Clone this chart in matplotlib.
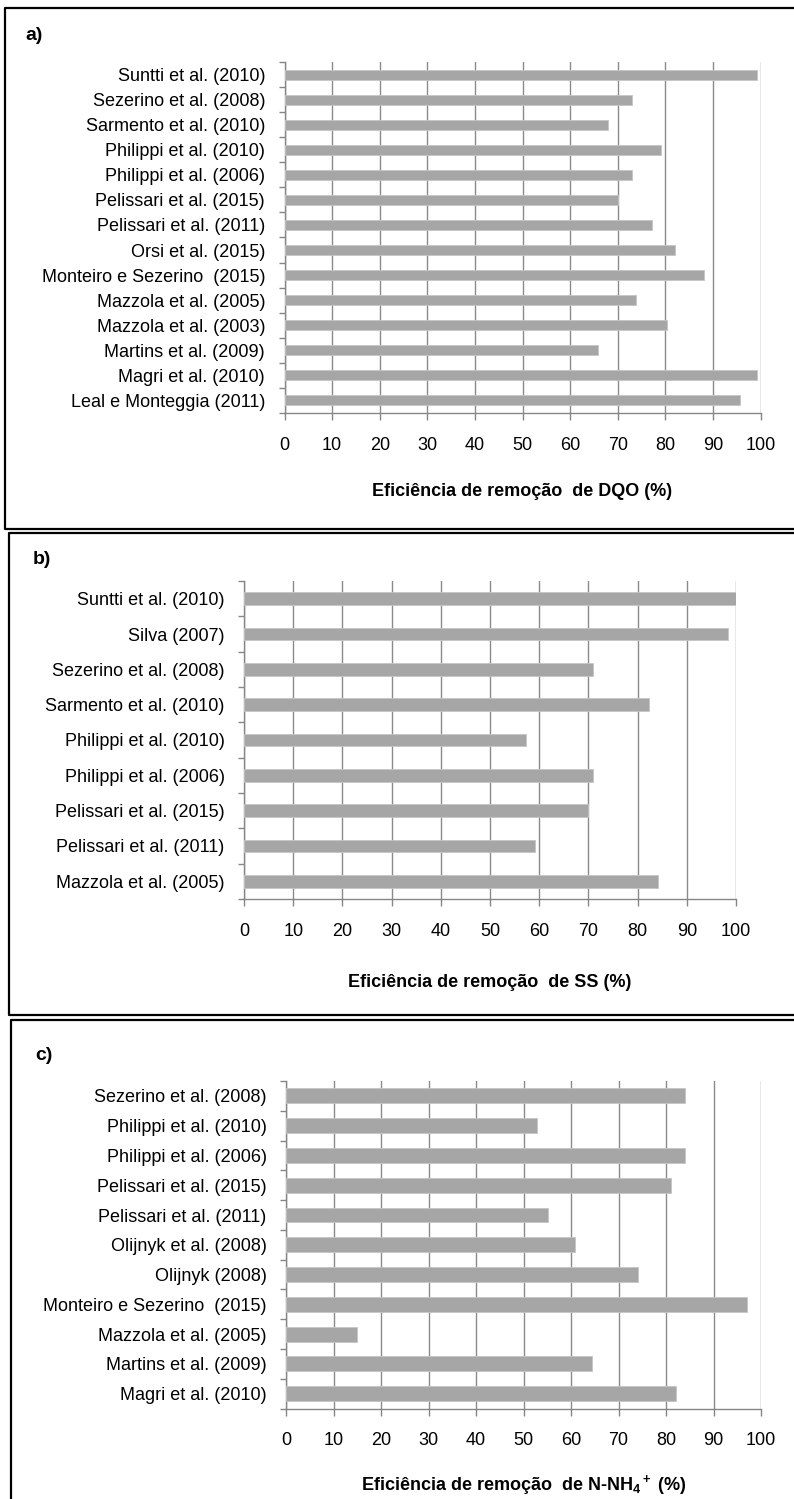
import matplotlib.pyplot as plt
from matplotlib.lines import Line2D

plt.rcParams['font.family'] = ['Liberation Sans', 'DejaVu Sans']
plt.rcParams['mathtext.fontset'] = 'custom'
plt.rcParams['mathtext.rm'] = 'Liberation Sans:bold'
plt.rcParams['mathtext.default'] = 'rm'

# a) DQO
labels_dqo = ['Suntti et al. (2010)', 'Sezerino et al. (2008)', 'Sarmento et al. (2010)',
              'Philippi et al. (2010)', 'Philippi et al. (2006)', 'Pelissari et al. (2015)',
              'Pelissari et al. (2011)', 'Orsi et al. (2015)', 'Monteiro e Sezerino  (2015)',
              'Mazzola et al. (2005)', 'Mazzola et al. (2003)', 'Martins et al. (2009)',
              'Magri et al. (2010)', 'Leal e Monteggia (2011)']
values_dqo = [99.2, 73.1, 68.0, 79.1, 73.1, 70.1, 77.3, 82.1, 88.1, 73.8, 80.4, 65.9, 99.2, 95.6]

# b) SS
labels_ss = ['Suntti et al. (2010)', 'Silva (2007)', 'Sezerino et al. (2008)',
             'Sarmento et al. (2010)', 'Philippi et al. (2010)', 'Philippi et al. (2006)',
             'Pelissari et al. (2015)', 'Pelissari et al. (2011)', 'Mazzola et al. (2005)']
values_ss = [100.0, 98.4, 71.0, 82.4, 57.3, 71.0, 70.0, 59.1, 84.2]

# c) N-NH4+
labels_nh4 = ['Sezerino et al. (2008)', 'Philippi et al. (2010)', 'Philippi et al. (2006)',
              'Pelissari et al. (2015)', 'Pelissari et al. (2011)', 'Olijnyk et al. (2008)',
              'Olijnyk (2008)', 'Monteiro e Sezerino  (2015)', 'Mazzola et al. (2005)',
              'Martins et al. (2009)', 'Magri et al. (2010)']
values_nh4 = [84.0, 52.8, 84.0, 81.0, 55.1, 60.9, 74.1, 97.0, 14.9, 64.4, 82.1]

xticks = list(range(0, 101, 10))

W, H = 794, 1499
fig = plt.figure(figsize=(W / 100, H / 100), dpi=100)


def px_axes(left, right, top, bottom):
    return fig.add_axes([left / W, 1 - bottom / H, (right - left) / W, (bottom - top) / H])


def draw_panel(ax, labels, values, bar_h, xlabel, lpad):
    n = len(labels)
    pos = list(range(n))
    ax.barh(pos, values, height=bar_h, color='#a6a6a6', edgecolor='#c6c6c6',
            linewidth=0.6, zorder=3)
    ax.set_xlim(0, 100)
    ax.set_ylim(n - 0.5, -0.5)
    ax.set_yticks(pos)
    ax.set_yticklabels(labels, fontsize=13)
    ax.set_yticks([i - 0.5 for i in range(n + 1)], minor=True)
    ax.set_xticks(xticks)
    ax.set_xticklabels([str(t) for t in xticks], fontsize=13)
    ax.tick_params(axis='y', which='major', length=0, pad=14)
    ax.tick_params(axis='y', which='minor', length=4, color='#868686', width=1)
    ax.tick_params(axis='x', which='major', length=5, color='#868686', width=1, pad=12)
    ax.grid(axis='x', color='#8a8a8a', linewidth=1, zorder=0)
    ax.set_axisbelow(True)
    for s in ['top', 'right']:
        ax.spines[s].set_visible(False)
    for s in ['left', 'bottom']:
        ax.spines[s].set_color('#868686')
        ax.spines[s].set_linewidth(1)
    ax.set_xlabel(xlabel, fontsize=13, fontweight='bold', labelpad=lpad)


ax_a = px_axes(284.5, 760.5, 62, 413)
draw_panel(ax_a, labels_dqo, values_dqo, 0.4, 'Eficiência de remoção  de DQO (%)', 21)

ax_b = px_axes(244, 736, 581, 899)
draw_panel(ax_b, labels_ss, values_ss, 0.36, 'Eficiência de remoção  de SS (%)', 25)

ax_c = px_axes(286, 761, 1081, 1408.6)
draw_panel(ax_c, labels_nh4, values_nh4, 0.5,
           'Eficiência de remoção  de N-NH$_4$$^+$ (%)', 17)

# painel labels
fig.text(25 / W, 1 - 36 / H, 'a)', fontsize=14, fontweight='bold', va='center')
fig.text(33 / W, 1 - 560 / H, 'b)', fontsize=14, fontweight='bold', va='center')
fig.text(35 / W, 1 - 1055 / H, 'c)', fontsize=14, fontweight='bold', va='center')

# moldura dos paineis
def frame(left, top, bottom):
    xs = [1.01, left / W, left / W, 1.01]
    ys = [1 - bottom / H, 1 - bottom / H, 1 - top / H, 1 - top / H]
    fig.add_artist(Line2D(xs, ys, color='black', linewidth=1.6,
                          transform=fig.transFigure))

frame(5, 8, 529)
frame(9, 533, 1015)
frame(11, 1020, 1510)

fig.savefig('out.png', dpi=100)
